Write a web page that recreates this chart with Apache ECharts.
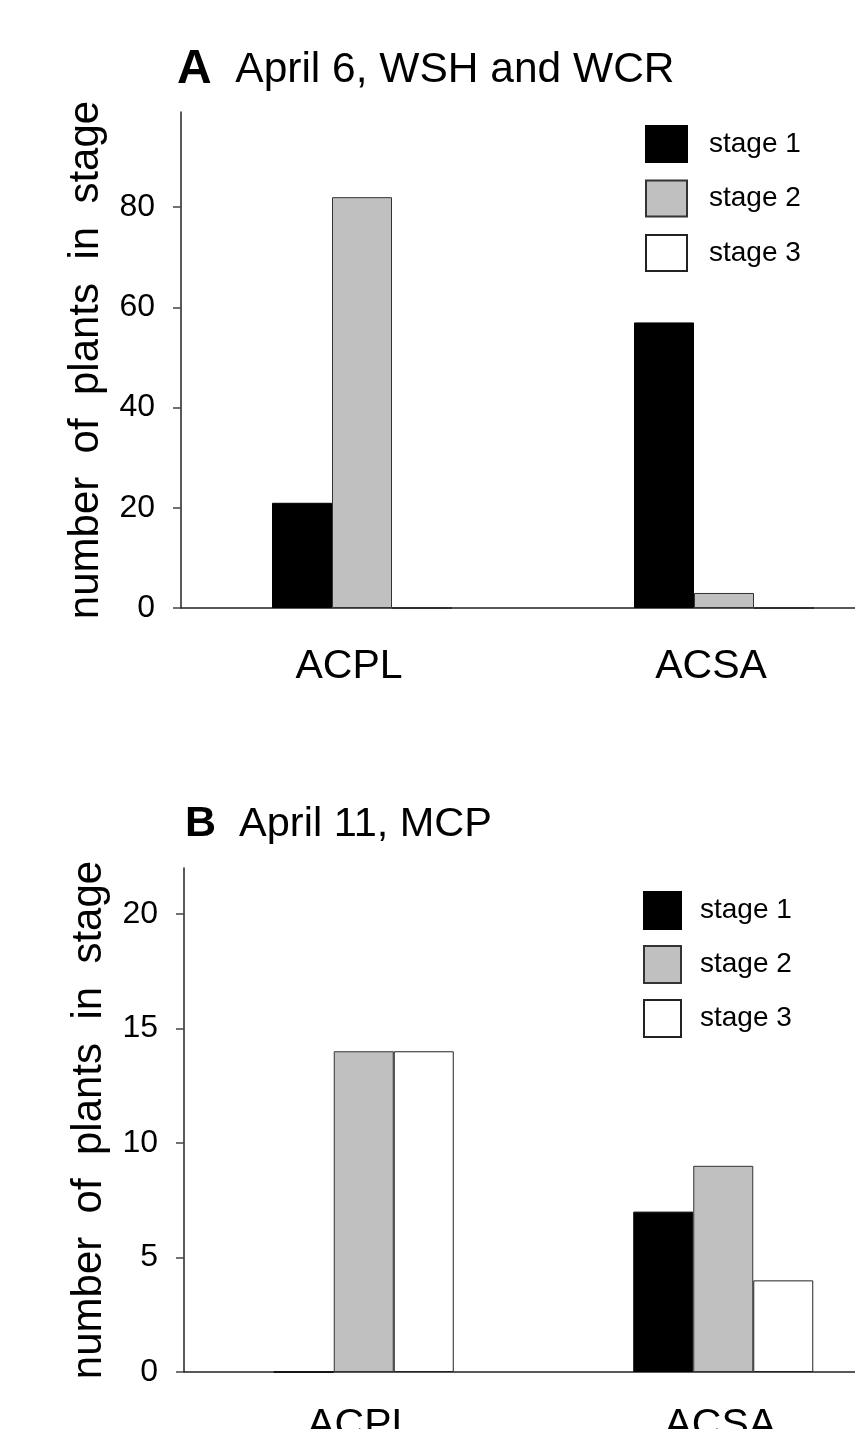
<!DOCTYPE html>
<html>
<head>
<meta charset="utf-8">
<script src="https://cdn.jsdelivr.net/npm/echarts@6/dist/echarts.min.js"></script>
<style>
  html, body { margin: 0; padding: 0; background: #fff; }
  #chart { width: 855px; height: 1429px; }
</style>
</head>
<body>
<div id="chart"></div>
<script>
// data
const categories = ['ACPL', 'ACSA']
const stageNames = ['stage 1', 'stage 2', 'stage 3']

// panel A: April 6, WSH and WCR
const aStage1 = [21, 57]
const aStage2 = [82, 3]
const aStage3 = [0, 0]
const aTicks = [0, 20, 40, 60, 80]

// panel B: April 11, MCP
const bStage1 = [0, 7]
const bStage2 = [14, 9]
const bStage3 = [14, 4]
const bTicks = [0, 5, 10, 15, 20]

const FONT = 'Liberation Sans, Arial, sans-serif'
const stageStyles = [
  { color: '#000000', borderColor: '#000000', borderWidth: 1 },
  { color: '#c0c0c0', borderColor: '#333333', borderWidth: 1 },
  { color: '#ffffff', borderColor: '#222222', borderWidth: 1 }
]

const chart = echarts.init(document.getElementById('chart'))

const yAxisFor = (gridIndex, max, interval, ticks) => ({
  type: 'value',
  gridIndex,
  min: 0,
  max,
  interval,
  name: 'number  of  plants  in  stage',
  nameLocation: 'middle',
  nameGap: 74,
  nameTextStyle: { fontSize: 42, color: '#000', fontFamily: FONT },
  splitLine: { show: false },
  axisLine: { show: true, lineStyle: { color: '#222', width: 1.5 } },
  axisTick: { show: true, length: 8, customValues: ticks, lineStyle: { color: '#444', width: 1.5 } },
  axisLabel: { customValues: ticks, margin: 26, fontSize: 32, color: '#000', fontFamily: FONT }
})

const xAxisFor = (gridIndex, margin, pad) => ({
  type: 'category',
  gridIndex,
  data: categories,
  axisLine: { show: true, lineStyle: { color: '#222', width: 1.5 } },
  axisTick: { show: false },
  axisLabel: { margin, fontSize: 41, color: '#000', fontFamily: FONT, padding: [0, pad, 0, 0] }
})

const legendFor = (left, top, w, h, gap, textPad) => ({
  orient: 'vertical',
  left,
  top,
  padding: 0,
  itemWidth: w,
  itemHeight: h,
  itemGap: gap,
  icon: 'rect',
  data: stageNames,
  selectedMode: false,
  textStyle: { fontSize: 28, color: '#000', fontFamily: FONT, padding: [0, 0, 0, textPad] }
})

const seriesFor = (gridIndex, values) => values.map((vals, i) => ({
  name: stageNames[i],
  type: 'bar',
  xAxisIndex: gridIndex,
  yAxisIndex: gridIndex,
  data: vals,
  barWidth: 60,
  barGap: '0%',
  itemStyle: stageStyles[i]
}))

const titleFor = (letter, text, left, top, letterSize, textSize) => ({
  text: '{k|' + letter + '}{t|  ' + text + '}',
  left,
  top,
  padding: 0,
  textStyle: {
    rich: {
      k: { fontSize: letterSize, fontWeight: 'bold', color: '#000', fontFamily: FONT },
      t: { fontSize: textSize, fontWeight: 'normal', color: '#000', fontFamily: FONT }
    }
  }
})

const option = {
  backgroundColor: '#fff',
  animation: false,
  title: [
    titleFor('A', 'April 6, WSH and WCR', 177, 46, 48, 42.5),
    titleFor('B', 'April 11, MCP', 185, 803, 43, 41.5)
  ],
  legend: [
    legendFor(645, 125, 41, 36, 16.5, 17),
    legendFor(643, 891, 37, 37, 15, 14)
  ],
  grid: [
    { left: 181, width: 724, top: 112, height: 496, outerBoundsMode: 'none' },
    { left: 184, width: 719, top: 868, height: 504, outerBoundsMode: 'none' }
  ],
  xAxis: [xAxisFor(0, 38, 26), xAxisFor(1, 33, 6)],
  yAxis: [yAxisFor(0, 99, 20, aTicks), yAxisFor(1, 22, 5, bTicks)],
  series: [
    ...seriesFor(0, [aStage1, aStage2, aStage3]),
    ...seriesFor(1, [bStage1, bStage2, bStage3])
  ]
}

chart.setOption(option)
</script>
</body>
</html>
